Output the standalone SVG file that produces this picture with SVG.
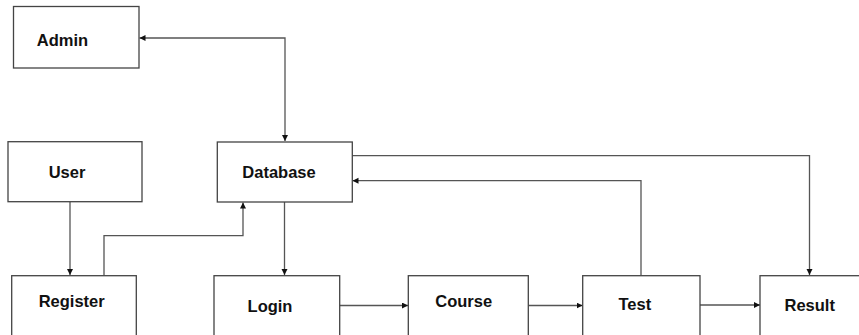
<svg xmlns="http://www.w3.org/2000/svg" width="859" height="335" viewBox="0 0 859 335">
<style>
.box{fill:#fff;stroke:#444;stroke-width:1.3}
.lbl{font-family:"Liberation Sans",Arial,sans-serif;font-weight:bold;font-size:16.5px;fill:#111;text-anchor:middle}
.conn{fill:none;stroke:#555;stroke-width:1.3}
</style>
<defs>
<marker id="arr" markerUnits="userSpaceOnUse" markerWidth="8" markerHeight="8" refX="6" refY="3" orient="auto-start-reverse">
<path d="M0,0 L6,3 L0,6 Z" fill="#111"/>
</marker>
</defs>
<rect width="859" height="335" fill="#fff"/>
<g id="connectors">
<path class="conn" d="M285 141 V38 H139.5" marker-start="url(#arr)" marker-end="url(#arr)"/>
<path class="conn" d="M70 202 V275" marker-end="url(#arr)"/>
<path class="conn" d="M104 275.5 V235.7 H243 V202.5" marker-end="url(#arr)"/>
<path class="conn" d="M284.5 202 V275" marker-end="url(#arr)"/>
<path class="conn" d="M352 155.7 H809.5 V275" marker-end="url(#arr)"/>
<path class="conn" d="M641 275.5 V180.7 H352.5" marker-end="url(#arr)"/>
<path class="conn" d="M339.5 305.5 H408" marker-end="url(#arr)"/>
<path class="conn" d="M528.5 305.5 H582.5" marker-end="url(#arr)"/>
<path class="conn" d="M700 305 H760" marker-end="url(#arr)"/>
</g>
<g id="admin"><rect class="box" x="13.5" y="6.5" width="125.5" height="61.5"/><text class="lbl" x="62.5" y="45.5">Admin</text></g>
<g id="user"><rect class="box" x="8" y="141.7" width="134" height="60"/><text class="lbl" x="67" y="178.3">User</text></g>
<g id="database"><rect class="box" x="217.3" y="142" width="135" height="60"/><text class="lbl" x="279" y="178.3">Database</text></g>
<g id="register"><rect class="box" x="11.7" y="275.7" width="124.6" height="70"/><text class="lbl" x="71.7" y="306.5">Register</text></g>
<g id="login"><rect class="box" x="214" y="275.7" width="125.7" height="70"/><text class="lbl" x="270" y="311.5">Login</text></g>
<g id="course"><rect class="box" x="408.3" y="275.7" width="120" height="70"/><text class="lbl" x="463.7" y="306.7">Course</text></g>
<g id="test"><rect class="box" x="582.7" y="275.7" width="117.3" height="70"/><text class="lbl" x="634.8" y="310">Test</text></g>
<g id="result"><rect class="box" x="760" y="275.7" width="120" height="70"/><text class="lbl" x="809.7" y="310.7">Result</text></g>
</svg>
